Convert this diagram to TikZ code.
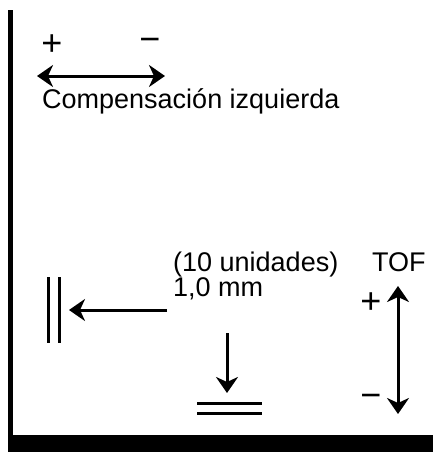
\documentclass[tikz,border=0pt]{standalone}
\usepackage{fontspec}
\setmainfont{Liberation Sans}
\usetikzlibrary{arrows.meta}

\begin{document}
\begin{tikzpicture}[x=1pt,y=-1pt,
    lbl/.style={font=\fontsize{27}{29}\selectfont,inner sep=0pt,anchor=base west},
    sgn/.style={font=\fontsize{36}{38}\selectfont,inner sep=0pt},
    arr/.style={line width=3pt,-{Stealth[length=16pt,width=22pt,inset=5pt]}},
    darr/.style={line width=3pt,{Stealth[length=16pt,width=22pt,inset=5pt]}-{Stealth[length=16pt,width=22pt,inset=5pt]}},
    plate/.style={line width=3pt}]
    \useasboundingbox (0,0) rectangle (433,452);

    % frame
    \fill (8,10) rectangle (13,452);
    \fill (8,435) rectangle (433,452);

    % left compensation
    \node[sgn] (plusL) at (52,45) {+};
    \node[sgn] (minusL) at (150,45) {−};
    \coordinate (compL) at (37,76);
    \coordinate (compR) at (165,76);
    \draw[darr] (compL) -- (compR);
    \node[lbl] (comp) at (42,108) {Compensación izquierda};

    % units
    \node[lbl] (units) at (173,271) {(10 unidades)};
    \node[lbl] (mm) at (173,296) {1,0 mm};

    % plates
    \coordinate (vplA) at (48,277);
    \coordinate (vplB) at (59,277);
    \draw[plate] (vplA) -- ++(0,66);
    \draw[plate] (vplB) -- ++(0,66);
    \coordinate (hplA) at (197,403);
    \coordinate (hplB) at (197,413);
    \draw[plate] (hplA) -- ++(65,0);
    \draw[plate] (hplB) -- ++(65,0);

    \coordinate (leftS) at (167,310);
    \coordinate (leftE) at (69,310);
    \draw[arr] (leftS) -- (leftE);
    \coordinate (downS) at (227,333);
    \coordinate (downE) at (227,393);
    \draw[arr] (downS) -- (downE);

    % TOF
    \node[lbl] (tof) at (372,271) {TOF};
    \node[sgn] (plusT) at (371,303) {+};
    \node[sgn] (minusT) at (371,401) {−};
    \coordinate (tofT) at (398,286);
    \coordinate (tofB) at (398,414);
    \draw[darr] (tofT) -- (tofB);
\end{tikzpicture}
\end{document}
